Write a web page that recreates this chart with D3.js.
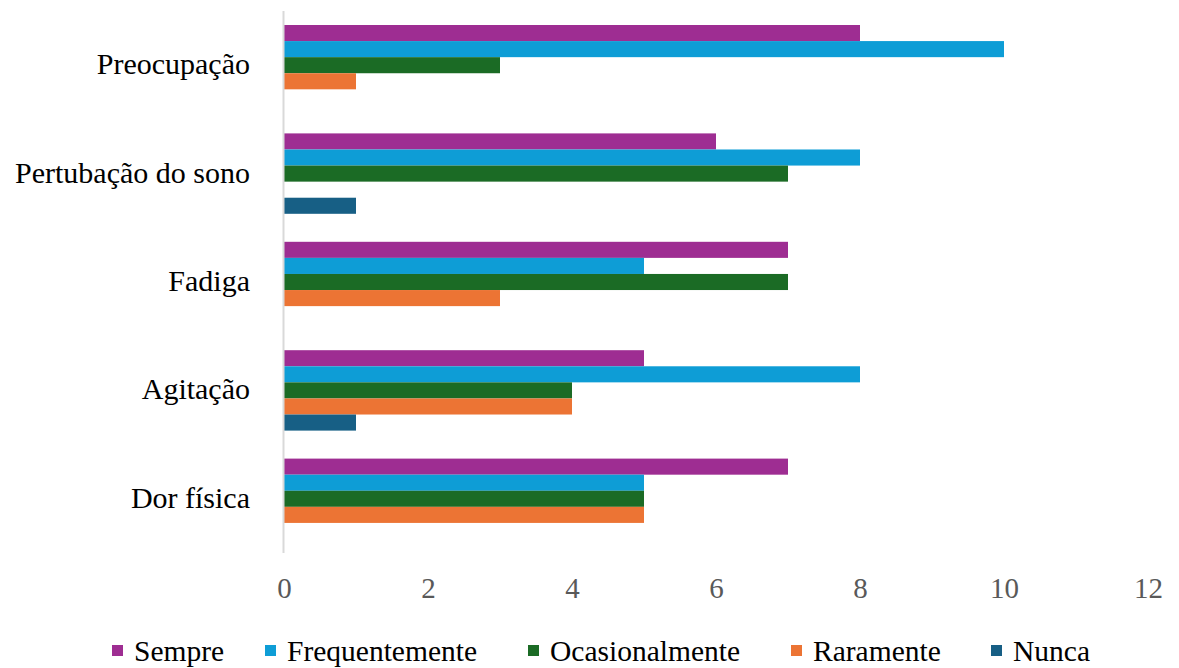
<!DOCTYPE html>
<html><head><meta charset="utf-8">
<script src="https://cdn.jsdelivr.net/npm/d3@7"></script>
<style>body{margin:0;background:#fff}svg{display:block}</style>
</head><body>
<svg id="c" width="1179" height="668"></svg>
<script>
const categories = ["Preocupação","Pertubação do sono","Fadiga","Agitação","Dor física"];
const seriesNames = ["Sempre","Frequentemente","Ocasionalmente","Raramente","Nunca"];
const sempre = [8,6,7,5,7];
const frequentemente = [10,8,5,8,5];
const ocasionalmente = [3,7,7,4,5];
const raramente = [1,0,3,4,5];
const nunca = [0,1,0,1,0];
const xTicks = [0,2,4,6,8,10,12];
const colors = ["#9E2D92","#0E9DD6","#1B6B25","#EC7434","#175F85"];

const seriesValues = [sempre,frequentemente,ocasionalmente,raramente,nunca];
const svg = d3.select("#c");
const font = "'Liberation Serif','Times New Roman',serif";

const x = d3.scaleLinear().domain([0,12]).range([284,1148]);
const y0 = d3.scaleBand().domain(categories).range([11,553]).paddingInner(0).paddingOuter(0);
const inner = d3.scaleBand().domain(seriesNames).range([14, y0.bandwidth()-14]);

// bars
categories.forEach((cat,ci)=>{
  seriesNames.forEach((s,si)=>{
    const v = seriesValues[si][ci];
    if(v<=0) return;
    svg.append("rect")
      .attr("x", x(0))
      .attr("y", y0(cat)+inner(s))
      .attr("width", x(v)-x(0))
      .attr("height", inner.bandwidth())
      .attr("fill", colors[si]);
  });
});

// vertical axis line
svg.append("line").attr("x1",x(0)-0.5).attr("x2",x(0)-0.5).attr("y1",11).attr("y2",553)
  .attr("stroke","#d9d9d9").attr("stroke-width",2);

// category labels
const yAxis = d3.axisLeft(y0).tickSize(0).tickPadding(34);
const gy = svg.append("g").attr("transform",`translate(${x(0)},0)`).call(yAxis);
gy.select(".domain").remove();
gy.selectAll("text").attr("font-family",font).attr("font-size",30).attr("fill","#000").attr("dy","0.3em");

// x tick labels
const xAxis = d3.axisBottom(x).tickValues(xTicks).tickSize(0).tickPadding(0).tickFormat(d3.format("d"));
const gx = svg.append("g").attr("transform",`translate(0,577)`).call(xAxis);
gx.select(".domain").remove();
gx.selectAll("text").attr("font-family",font).attr("font-size",29).attr("fill","#595959");

// legend
const legendX = [112,265,528,791,991];
const lg = svg.append("g");
seriesNames.forEach((s,i)=>{
  lg.append("rect").attr("x",legendX[i]).attr("y",645).attr("width",11).attr("height",11).attr("fill",colors[i]);
  lg.append("text").attr("x",legendX[i]+22).attr("y",661).text(s)
    .attr("font-family",font).attr("font-size",29.5).attr("fill","#000");
});
</script>
</body></html>
